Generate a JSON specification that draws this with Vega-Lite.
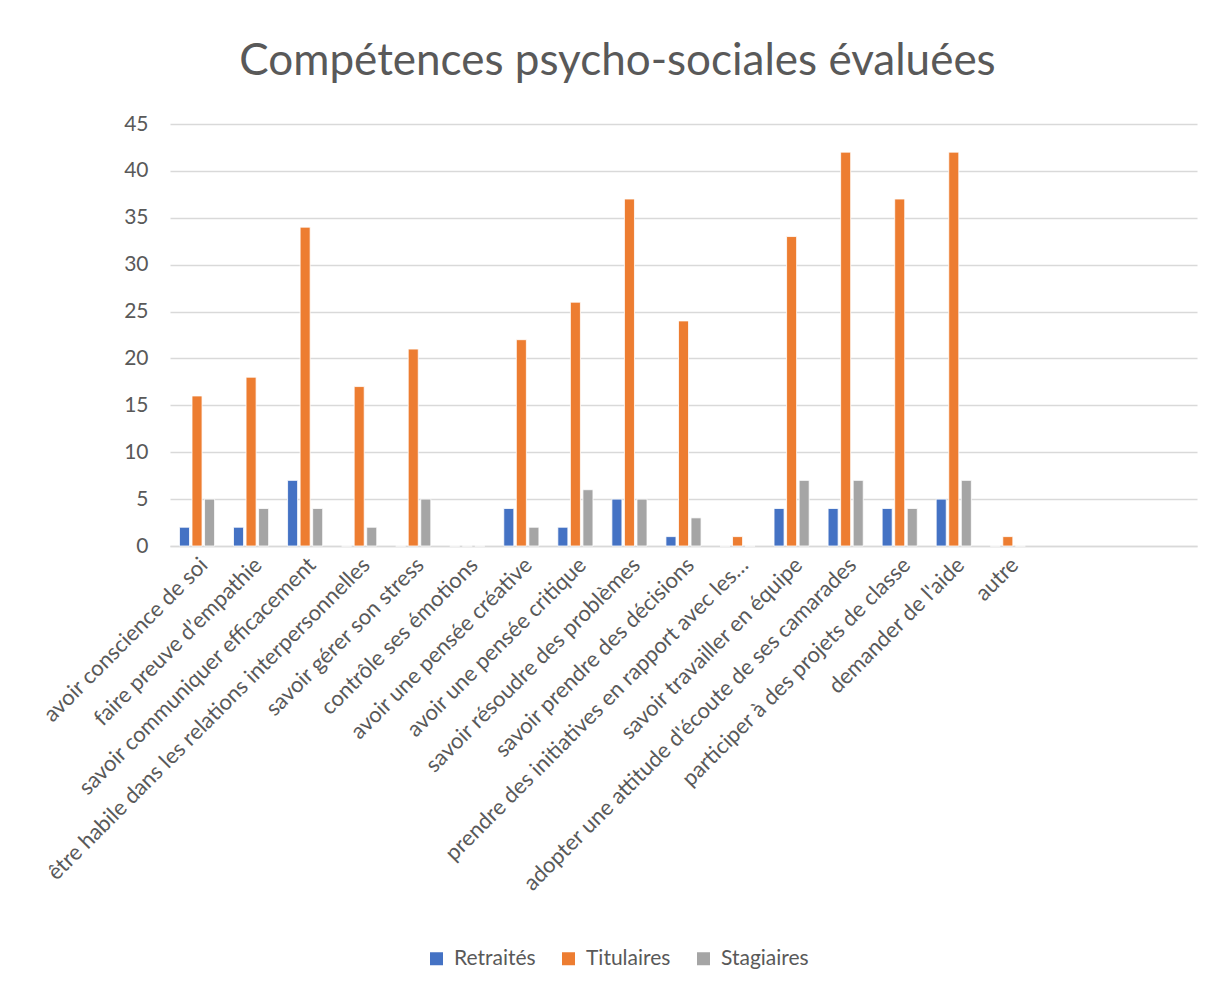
{
  "$schema": "https://vega.github.io/schema/vega-lite/v6.json",
  "autosize": {"type": "none"},
  "width": 1027,
  "height": 422,
  "padding": {"left": 170, "top": 124, "right": 22, "bottom": 444},
  "background": "white",
  "title": {
    "text": "Compétences psycho-sociales évaluées",
    "font": "Lato",
    "fontSize": 44,
    "fontWeight": "normal",
    "color": "#595959",
    "anchor": "middle",
    "dx": -66,
    "offset": 29
  },
  "data": {
    "values": [
      {"c": "avoir conscience de soi", "s": "Retraités", "v": 2},
      {"c": "avoir conscience de soi", "s": "Titulaires", "v": 16},
      {"c": "avoir conscience de soi", "s": "Stagiaires", "v": 5},
      {"c": "faire preuve d’empathie", "s": "Retraités", "v": 2},
      {"c": "faire preuve d’empathie", "s": "Titulaires", "v": 18},
      {"c": "faire preuve d’empathie", "s": "Stagiaires", "v": 4},
      {"c": "savoir communiquer efficacement", "s": "Retraités", "v": 7},
      {"c": "savoir communiquer efficacement", "s": "Titulaires", "v": 34},
      {"c": "savoir communiquer efficacement", "s": "Stagiaires", "v": 4},
      {"c": "être habile dans les relations interpersonnelles", "s": "Retraités", "v": 0},
      {"c": "être habile dans les relations interpersonnelles", "s": "Titulaires", "v": 17},
      {"c": "être habile dans les relations interpersonnelles", "s": "Stagiaires", "v": 2},
      {"c": "savoir gérer son stress", "s": "Retraités", "v": 0},
      {"c": "savoir gérer son stress", "s": "Titulaires", "v": 21},
      {"c": "savoir gérer son stress", "s": "Stagiaires", "v": 5},
      {"c": "contrôle ses émotions", "s": "Retraités", "v": 0},
      {"c": "contrôle ses émotions", "s": "Titulaires", "v": 0},
      {"c": "contrôle ses émotions", "s": "Stagiaires", "v": 0},
      {"c": "avoir une pensée créative", "s": "Retraités", "v": 4},
      {"c": "avoir une pensée créative", "s": "Titulaires", "v": 22},
      {"c": "avoir une pensée créative", "s": "Stagiaires", "v": 2},
      {"c": "avoir une pensée critique", "s": "Retraités", "v": 2},
      {"c": "avoir une pensée critique", "s": "Titulaires", "v": 26},
      {"c": "avoir une pensée critique", "s": "Stagiaires", "v": 6},
      {"c": "savoir résoudre des problèmes", "s": "Retraités", "v": 5},
      {"c": "savoir résoudre des problèmes", "s": "Titulaires", "v": 37},
      {"c": "savoir résoudre des problèmes", "s": "Stagiaires", "v": 5},
      {"c": "savoir prendre des décisions", "s": "Retraités", "v": 1},
      {"c": "savoir prendre des décisions", "s": "Titulaires", "v": 24},
      {"c": "savoir prendre des décisions", "s": "Stagiaires", "v": 3},
      {"c": "prendre des initiatives en rapport avec les…", "s": "Retraités", "v": 0},
      {"c": "prendre des initiatives en rapport avec les…", "s": "Titulaires", "v": 1},
      {"c": "prendre des initiatives en rapport avec les…", "s": "Stagiaires", "v": 0},
      {"c": "savoir travailler en équipe", "s": "Retraités", "v": 4},
      {"c": "savoir travailler en équipe", "s": "Titulaires", "v": 33},
      {"c": "savoir travailler en équipe", "s": "Stagiaires", "v": 7},
      {"c": "adopter une attitude d'écoute de ses camarades", "s": "Retraités", "v": 4},
      {"c": "adopter une attitude d'écoute de ses camarades", "s": "Titulaires", "v": 42},
      {"c": "adopter une attitude d'écoute de ses camarades", "s": "Stagiaires", "v": 7},
      {"c": "participer à des projets de classe", "s": "Retraités", "v": 4},
      {"c": "participer à des projets de classe", "s": "Titulaires", "v": 37},
      {"c": "participer à des projets de classe", "s": "Stagiaires", "v": 4},
      {"c": "demander de l'aide", "s": "Retraités", "v": 5},
      {"c": "demander de l'aide", "s": "Titulaires", "v": 42},
      {"c": "demander de l'aide", "s": "Stagiaires", "v": 7},
      {"c": "autre", "s": "Retraités", "v": 0},
      {"c": "autre", "s": "Titulaires", "v": 1},
      {"c": "autre", "s": "Stagiaires", "v": 0}
    ]
  },
  "mark": {"type": "bar", "stroke": "white", "strokeWidth": 0.8},
  "encoding": {
    "x": {
      "field": "c",
      "type": "nominal",
      "sort": null,
      "title": null,
      "scale": {
        "domain": [
          "avoir conscience de soi",
          "faire preuve d’empathie",
          "savoir communiquer efficacement",
          "être habile dans les relations interpersonnelles",
          "savoir gérer son stress",
          "contrôle ses émotions",
          "avoir une pensée créative",
          "avoir une pensée critique",
          "savoir résoudre des problèmes",
          "savoir prendre des décisions",
          "prendre des initiatives en rapport avec les…",
          "savoir travailler en équipe",
          "adopter une attitude d'écoute de ses camarades",
          "participer à des projets de classe",
          "demander de l'aide",
          "autre",
          " ",
          "  ",
          "   "
        ],
        "paddingInner": 0.35,
        "paddingOuter": 0.175
      },
      "axis": {
        "labelAngle": -45,
        "labelFont": "Lato",
        "labelFontSize": 22,
        "labelColor": "#595959",
        "labelLimit": 800,
        "labelPadding": 8,
        "ticks": false,
        "domainColor": "#d9d9d9",
        "domainWidth": 1.5,
        "grid": false
      }
    },
    "xOffset": {
      "field": "s",
      "type": "nominal",
      "sort": ["Retraités", "Titulaires", "Stagiaires"],
      "scale": {"paddingInner": 0.2}
    },
    "y": {
      "field": "v",
      "type": "quantitative",
      "title": null,
      "scale": {"domain": [0, 45], "nice": false},
      "axis": {
        "values": [0, 5, 10, 15, 20, 25, 30, 35, 40, 45],
        "labelFont": "Lato",
        "labelFontSize": 21,
        "labelColor": "#595959",
        "labelPadding": 22,
        "ticks": false,
        "domain": false,
        "gridColor": "#d9d9d9",
        "gridWidth": 1.5
      }
    },
    "color": {
      "field": "s",
      "type": "nominal",
      "sort": ["Retraités", "Titulaires", "Stagiaires"],
      "scale": {
        "domain": ["Retraités", "Titulaires", "Stagiaires"],
        "range": ["#4472C4", "#ED7D31", "#A5A5A5"]
      },
      "legend": {
        "title": null,
        "orient": "none",
        "legendX": 256,
        "legendY": 824,
        "direction": "horizontal",
        "symbolType": "square",
        "symbolSize": 169,
        "symbolStrokeWidth": 0,
        "labelOffset": 7,
        "labelFont": "Lato",
        "labelFontSize": 21,
        "labelColor": "#595959",
        "columnPadding": 22
      }
    }
  },
  "config": {
    "view": {"stroke": null}
  }
}
